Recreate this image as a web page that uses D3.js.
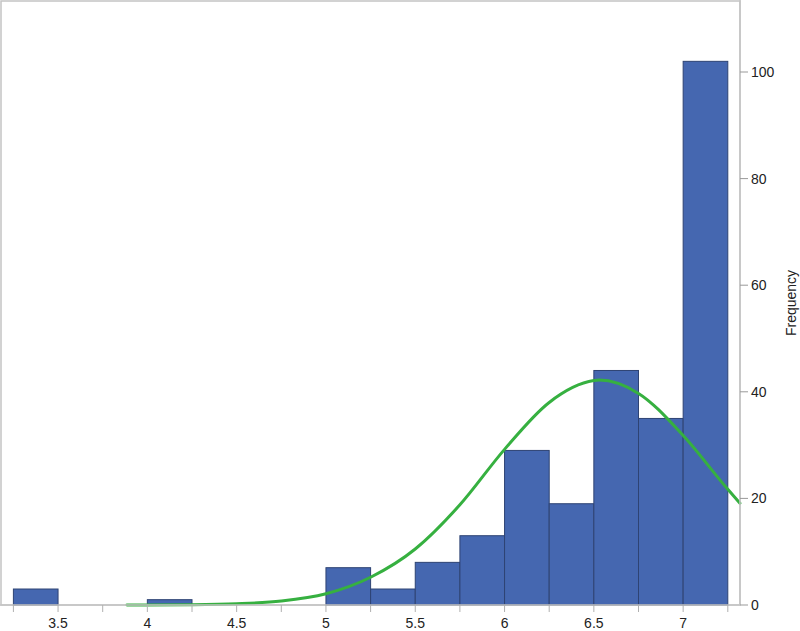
<!DOCTYPE html>
<html>
<head>
<meta charset="utf-8">
<script src="https://cdn.jsdelivr.net/npm/d3@7"></script>
<style>
  html, body { margin: 0; padding: 0; background: #fff; }
  svg { display: block; }
  text { font-family: "Liberation Sans", Arial, sans-serif; }
</style>
</head>
<body>
<svg id="chart" width="800" height="631"></svg>
<script>
// Histogram bins (left edge, right edge) and counts
const binStarts = [3.25, 4.0, 5.0, 5.25, 5.5, 5.75, 6.0, 6.25, 6.5, 6.75, 7.0];
const binEnds   = [3.5, 4.25, 5.25, 5.5, 5.75, 6.0, 6.25, 6.5, 6.75, 7.0, 7.25];
const counts    = [3, 1, 7, 3, 8, 13, 29, 19, 44, 35, 102];

// Fitted normal curve
const curveX = [3.886, 4.0, 4.25, 4.5, 4.75, 5.0, 5.25, 5.5, 5.75, 6.0, 6.25, 6.5, 6.53, 6.75, 7.0, 7.25, 7.318];
const curveY = [0, 0.01, 0.05, 0.22, 0.73, 2.1, 5.2, 10.5, 18.8, 29.2, 38.0, 42.1, 42.2, 39.7, 31.8, 21.7, 19.1];

// Axis ticks
const xTickLabels = [3.5, 4, 4.5, 5, 5.5, 6, 6.5, 7];
const xMinorTicks = [3.25, 3.5, 3.75, 4, 4.25, 4.5, 4.75, 5, 5.25, 5.5, 5.75, 6, 6.25, 6.5, 6.75, 7, 7.25];
const yTicks = [0, 20, 40, 60, 80, 100];
const yLabel = "Frequency";

const svg = d3.select("#chart");
const pLeft = 1, pTop = 1, pRight = 740, pBottom = 605;

const x = d3.scaleLinear().domain([3.25, 7.25]).range([13.4, 727.8]);
const y = d3.scaleLinear().domain([0, 100]).range([605, 72]);

// frame
svg.append("rect")
  .attr("x", pLeft).attr("y", pTop)
  .attr("width", pRight - pLeft).attr("height", pBottom - pTop)
  .attr("fill", "none").attr("stroke", "#c4c4c4").attr("stroke-width", 1.5);

// bars
const bins = counts.map((c, i) => ({ x0: binStarts[i], x1: binEnds[i], c }));
svg.append("g").selectAll("rect").data(bins).join("rect")
  .attr("x", d => x(d.x0))
  .attr("width", d => x(d.x1) - x(d.x0))
  .attr("y", d => y(d.c))
  .attr("height", d => y(0) - y(d.c))
  .attr("fill", "#4567B0")
  .attr("stroke", "#2E4373")
  .attr("stroke-width", 1);

// curve
const pts = curveX.map((v, i) => [v, curveY[i]]);
svg.append("path")
  .datum(pts)
  .attr("fill", "none")
  .attr("stroke", "#36B040")
  .attr("stroke-width", 3)
  .attr("stroke-linecap", "round")
  .attr("d", d3.line().x(d => x(d[0])).y(d => y(d[1])).curve(d3.curveMonotoneX));

// bottom axis
const xAxis = svg.append("g").attr("transform", `translate(0,${pBottom})`);
xAxis.append("line").attr("x1", 0).attr("x2", pRight).attr("y1", 0).attr("y2", 0)
  .attr("stroke", "#c4c4c4").attr("stroke-width", 1.5);
xAxis.selectAll("line.tick").data(xMinorTicks).join("line")
  .attr("class", "tick")
  .attr("x1", d => x(d)).attr("x2", d => x(d))
  .attr("y1", 0).attr("y2", 7)
  .attr("stroke", "#b0b0b0").attr("stroke-width", 1);
xAxis.selectAll("text").data(xTickLabels).join("text")
  .attr("x", d => x(d)).attr("y", 23)
  .attr("text-anchor", "middle")
  .attr("font-size", 14)
  .attr("fill", "#222")
  .text(d => d);

// right axis
const yAxis = svg.append("g").attr("transform", `translate(${pRight},0)`);
yAxis.append("line").attr("x1", 0).attr("x2", 0).attr("y1", 0).attr("y2", pBottom)
  .attr("stroke", "#c4c4c4").attr("stroke-width", 1.5);
yAxis.selectAll("line.tick").data(yTicks).join("line")
  .attr("class", "tick")
  .attr("x1", 0).attr("x2", 8)
  .attr("y1", d => y(d)).attr("y2", d => y(d))
  .attr("stroke", "#999").attr("stroke-width", 1);
yAxis.selectAll("text").data(yTicks).join("text")
  .attr("x", 11).attr("y", d => y(d))
  .attr("dy", "0.35em")
  .attr("font-size", 14)
  .attr("fill", "#222")
  .text(d => d);

svg.append("text")
  .attr("transform", `translate(796,${(pTop + pBottom) / 2}) rotate(-90)`)
  .attr("text-anchor", "middle")
  .attr("font-size", 14)
  .attr("fill", "#222")
  .text(yLabel);
</script>
</body>
</html>
